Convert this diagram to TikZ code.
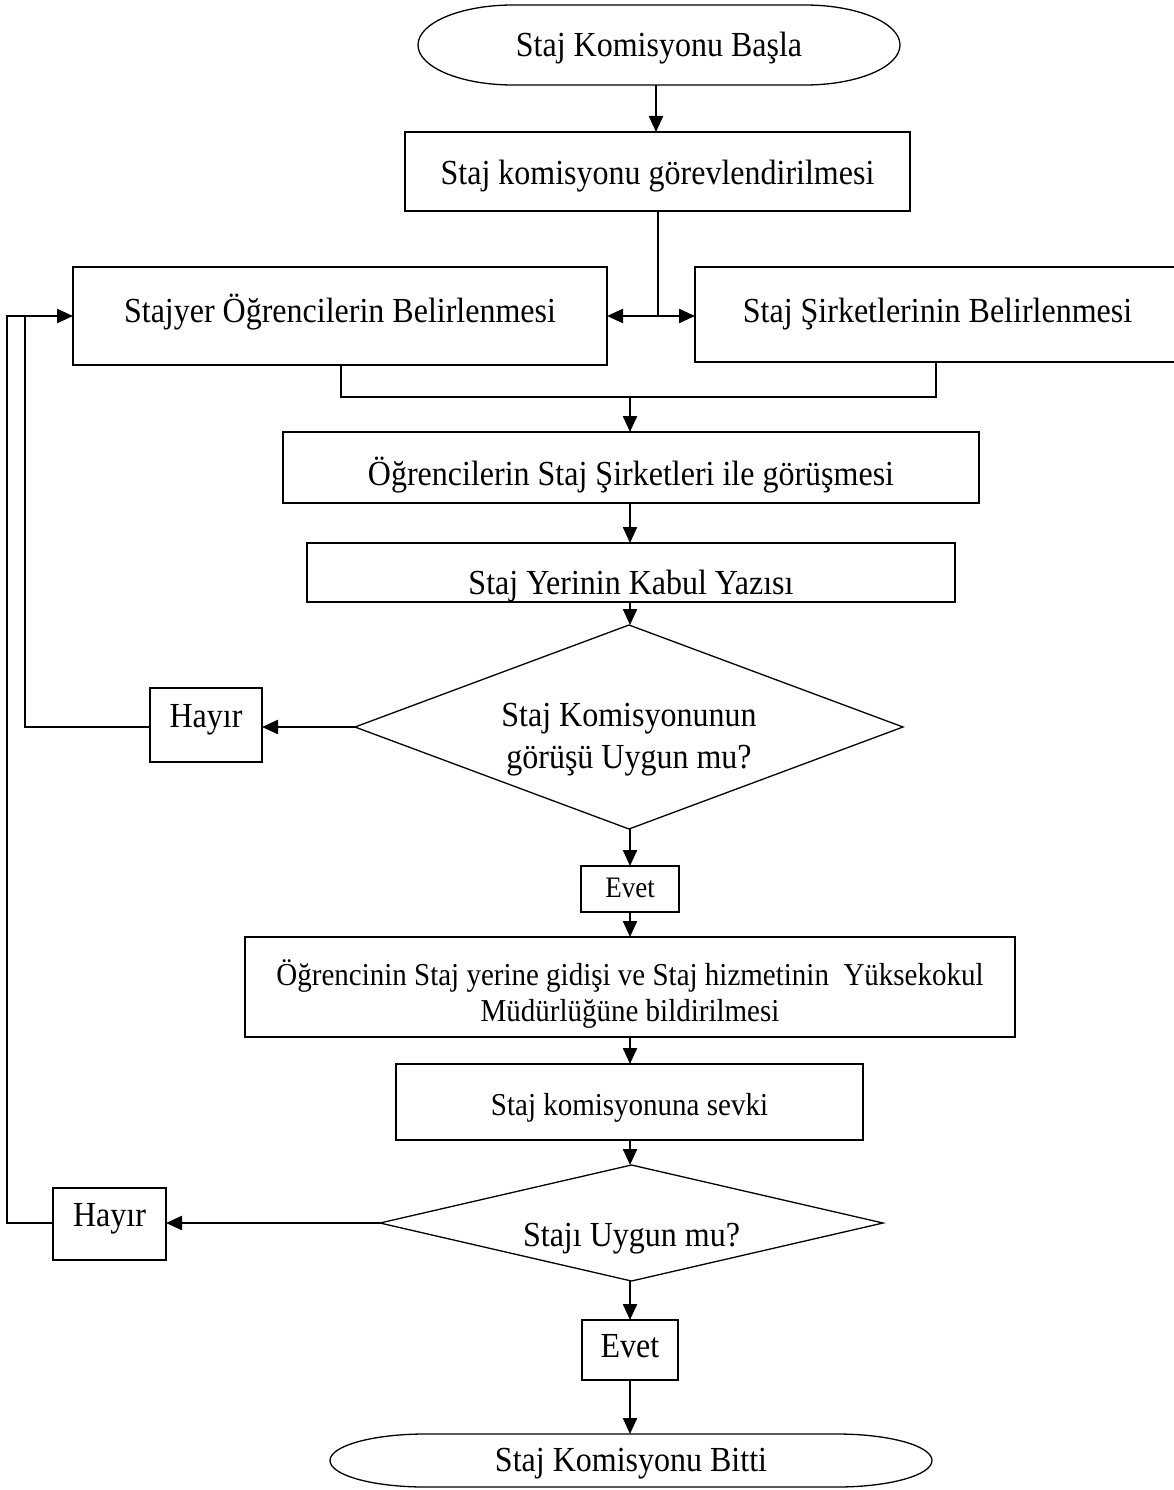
\documentclass[tikz,border=0pt]{standalone}
\usepackage{fontspec}
\setmainfont{Liberation Serif}
\usetikzlibrary{shapes.geometric,arrows.meta}
% label text: vertical shift, slightly tall letterforms, centred lines
\newcommand\tx[2]{\raisebox{#1}[\height][\depth]{\scalebox{1}[1.1]{\begin{tabular}{@{}c@{}}#2\end{tabular}}}}
\begin{document}
\begin{tikzpicture}[x=1pt,y=-1pt,
  every node/.style={inner sep=0pt, outer sep=0pt},
  big/.style={font=\fontsize{32}{36}\selectfont},
  mid/.style={font=\fontsize{29}{33}\selectfont},
  small/.style={font=\fontsize{27}{30}\selectfont},
  box/.style={draw, rectangle, line width=1.5pt, align=center},
  term/.style={rectangle, align=center},
  decision/.style={draw, diamond, line width=1.3pt},
  line/.style={line width=2.3pt},
  arr/.style={line width=2.3pt, -{Triangle[length=16pt,width=14pt]}}
]
\path[use as bounding box, clip] (0,0) rectangle (1174,1490);

% start / end terminators (flat sides, elliptical caps)
\node[term, big, minimum width=482pt, minimum height=80pt] (start) at (659,45) {\tx{-4pt}{Staj Komisyonu Başla}};
\draw[line width=1.3pt] ([xshift=95pt]start.north west) -- ([xshift=-95pt]start.north east)
  arc[start angle=90, end angle=-90, x radius=95pt, y radius=40pt]
  -- ([xshift=95pt]start.south west)
  arc[start angle=270, end angle=90, x radius=95pt, y radius=40pt] -- cycle;

\node[term, big, minimum width=602pt, minimum height=53pt] (end) at (631,1460.5) {\tx{-3pt}{Staj Komisyonu Bitti}};
\draw[line width=1.3pt] ([xshift=95pt]end.north west) -- ([xshift=-95pt]end.north east)
  arc[start angle=90, end angle=-90, x radius=95pt, y radius=26.5pt]
  -- ([xshift=95pt]end.south west)
  arc[start angle=270, end angle=90, x radius=95pt, y radius=26.5pt] -- cycle;

% process boxes
\node[box, big, minimum width=505pt, minimum height=79pt] (b1) at (657.5,171.5) {\tx{-5pt}{Staj komisyonu görevlendirilmesi}};
\node[box, big, minimum width=534pt, minimum height=98pt] (b2) at (340,316) {\tx{2pt}{Stajyer Öğrencilerin Belirlenmesi}};
\node[box, big, minimum width=485pt, minimum height=95pt] (b3) at (937.5,314.5) {\tx{0pt}{Staj Şirketlerinin Belirlenmesi}};
\node[box, big, minimum width=696pt, minimum height=71pt] (b4) at (631,467.5) {\tx{-10pt}{Öğrencilerin Staj Şirketleri ile görüşmesi}};
\node[box, big, minimum width=648pt, minimum height=59pt] (b5) at (631,572.5) {\tx{-14pt}{Staj Yerinin Kabul Yazısı}};

% first decision
\node[decision, minimum width=548pt, minimum height=204pt,
  label={[big, font=\fontsize{32}{38}\selectfont]center:\tx{-12pt}{Staj Komisyonunun\\görüşü Uygun mu?}}] (d1) at (629,727) {};
\node[box, big, minimum width=112pt, minimum height=74pt] (h1) at (206,725) {\tx{5pt}{Hayır}};
\node[box, small, minimum width=98pt, minimum height=46pt] (e1) at (630,889) {\tx{-2pt}{Evet}};

\node[box, mid, minimum width=770pt, minimum height=100pt] (b6) at (630,987)
  {\tx{-9pt}{Öğrencinin Staj yerine gidişi ve Staj hizmetinin \ Yüksekokul\\Müdürlüğüne bildirilmesi}};
\node[box, mid, minimum width=467pt, minimum height=76pt] (b7) at (629.5,1102) {\tx{-6pt}{Staj komisyonuna sevki}};

% second decision
\node[decision, minimum width=503pt, minimum height=116pt,
  label={[big]center:\tx{-16pt}{Stajı Uygun mu?}}] (d2) at (631.5,1223) {};
\node[box, big, minimum width=113pt, minimum height=72pt] (h2) at (109.5,1224) {\tx{5pt}{Hayır}};
\node[box, big, minimum width=96pt, minimum height=60pt] (e2) at (630,1350) {\tx{0pt}{Evet}};

% junction points
\coordinate (j1) at (658,316);
\coordinate (m1) at (630,397);
\coordinate (k1) at (25,316);
\coordinate (k2) at (7,316);

% connectors
\draw[arr] (start.south -| b1.north) ++(-1.5,0) coordinate (s0) -- (s0 |- b1.north);
\draw[line] (b1.south -| j1) -- (j1);
\draw[arr] (j1) -- (j1 -| b2.east);
\draw[arr] (j1) -- (j1 -| b3.west);
\draw[line] ([xshift=1pt]b2.south) |- (m1);
\draw[line] ([xshift=-1.5pt]b3.south) |- (m1);
\draw[arr] (m1) -- (m1 |- b4.north);
\draw[arr] (b4.south -| m1) -- (m1 |- b5.north);
\draw[arr] (b5.south -| m1) -- (m1 |- d1.north);
\draw[arr] (d1.west) -- (d1.west -| h1.east);
\draw[line] (h1.west |- d1.west) -| (k1);
\draw[arr] (d1.south -| m1) -- (m1 |- e1.north);
\draw[arr] (e1.south -| m1) -- (m1 |- b6.north);
\draw[arr] (b6.south -| m1) -- (m1 |- b7.north);
\draw[arr] (b7.south -| m1) -- (m1 |- d2.north);
\draw[arr] (d2.west) -- (d2.west -| h2.east);
\draw[arr] (h2.west |- d2.west) -| (k2) -- (k2 -| b2.west);
\draw[arr] (d2.south -| m1) -- (m1 |- e2.north);
\draw[arr] (e2.south -| m1) -- (m1 |- end.north);
\end{tikzpicture}
\end{document}
